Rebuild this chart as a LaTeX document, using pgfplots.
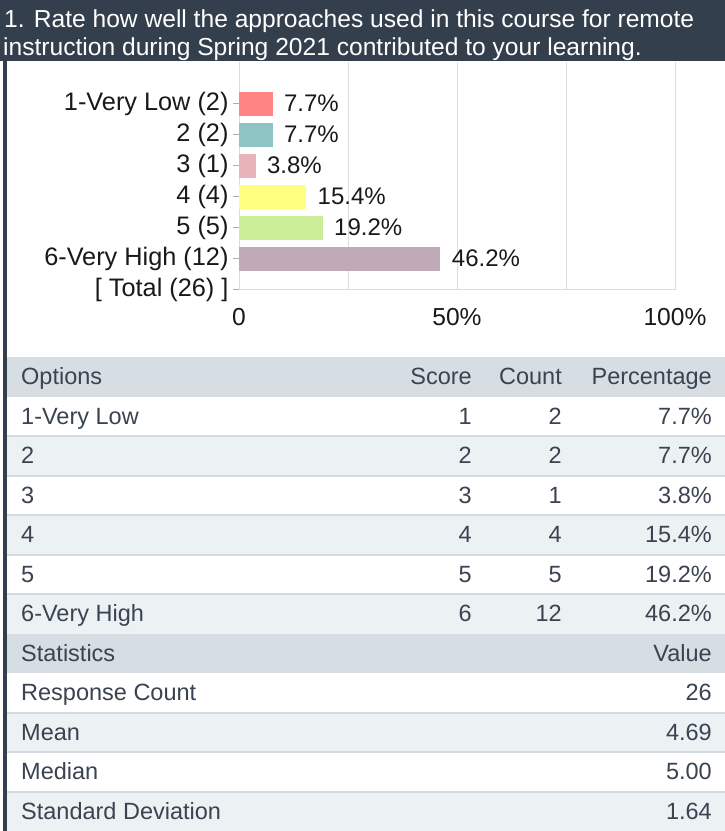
\documentclass[border=0pt]{standalone}
\usepackage{pgfplots}
\pgfplotsset{compat=1.18}
\usepackage{fontspec}
\setmainfont{Liberation Sans}

\definecolor{headbg}{HTML}{343F4D}
\definecolor{thbg}{HTML}{D6DEE3}
\definecolor{rowalt}{HTML}{ECF1F4}
\definecolor{rowline}{HTML}{D3DBE0}
\definecolor{tabtxt}{HTML}{3A4350}
\definecolor{gridc}{HTML}{DCDCDC}
\definecolor{c1}{HTML}{FF8585}
\definecolor{c2}{HTML}{8FC4C4}
\definecolor{c3}{HTML}{E8B4BA}
\definecolor{c4}{HTML}{FFFF80}
\definecolor{c5}{HTML}{CCEE99}
\definecolor{c6}{HTML}{C1AAB8}

\newcommand{\hfont}{\fontsize{24.6bp}{30bp}\selectfont}
\newcommand{\cfont}{\fontsize{25.3bp}{28bp}\selectfont}
\newcommand{\vfont}{\fontsize{24bp}{28bp}\selectfont}
\newcommand{\tfont}{\fontsize{23.5bp}{28bp}\selectfont}

\begin{document}
\begin{tikzpicture}
\path[use as bounding box] (0,0) rectangle (725bp,-831bp);

\begin{scope}[x=1bp,y=-1bp]
% header band and left border
\fill[headbg] (0,0) rectangle (725,61);
\fill[headbg] (3.5,0) rectangle (6.5,831);
\node[anchor=base west, inner sep=0, text=white, font=\hfont] at (4,27)
  {1. Rate how well the approaches used in this course for remote};
\node[anchor=base west, inner sep=0, text=white, font=\hfont] at (3,55)
  {instruction during Spring 2021 contributed to your learning.};

% table rows: backgrounds
\foreach \k/\c in {0/thbg,1/white,2/rowalt,3/white,4/rowalt,5/white,6/rowalt,
                   7/thbg,8/white,9/rowalt,10/white,11/rowalt} {
  \fill[\c] (6.5,357+39.5*\k) rectangle (725,357+39.5*\k+39.5);
}
\foreach \k in {2,3,4,5,6,9,10,11} {
  \draw[rowline, line width=2bp] (6.5,357+39.5*\k) -- (725,357+39.5*\k);
}

% table text
\begin{scope}[every node/.style={inner sep=0, text=tabtxt, font=\tfont}]
\foreach \k/\a/\b/\c/\d in {0/Options/Score/Count/Percentage,
    1/1-Very Low/1/2/7.7\%, 2/2/2/2/7.7\%, 3/3/3/1/3.8\%,
    4/4/4/4/15.4\%, 5/5/5/5/19.2\%, 6/6-Very High/6/12/46.2\%} {
  \node[anchor=base west] at (21,357+39.5*\k+27.5) {\a};
  \node[anchor=base east] at (472,357+39.5*\k+27.5) {\b};
  \node[anchor=base east] at (562,357+39.5*\k+27.5) {\c};
  \node[anchor=base east] at (712,357+39.5*\k+27.5) {\d};
}
\foreach \k/\a/\d in {7/Statistics/Value, 8/Response Count/26,
    9/Mean/4.69, 10/Median/5.00, 11/Standard Deviation/1.64} {
  \node[anchor=base west] at (21,357+39.5*\k+27.5) {\a};
  \node[anchor=base east] at (712,357+39.5*\k+27.5) {\d};
}
\end{scope}
\end{scope}

\begin{axis}[
    at={(239bp,-289.5bp)}, anchor=south west,
    scale only axis, width=436bp, height=227.5bp,
    xmin=0, xmax=100, ymin=-1.343, ymax=6, y dir=reverse,
    clip=false,
    /pgf/number format/assume math mode=true,
    xtick={0,25,50,75,100},
    xticklabels={0,,50\%,,100\%},
    ytick={0,1,2,3,4,5,6},
    yticklabels={1-Very Low (2),2 (2),3 (1),4 (4),5 (5),6-Very High (12),{[ Total (26) ]}},
    ytick pos=left,
    xmajorgrids,
    grid style={draw=gridc, line width=1bp},
    axis line style={draw=none},
    x tick style={draw=none},
    y tick style={draw=gridc!80!black, line width=1bp},
    tick align=outside, major tick length=6bp,
    yticklabel style={font=\cfont, text=black!90, xshift=-1bp},
    xticklabel style={font=\hfont, text=black!90, yshift=-9bp},
    xbar, bar width=24bp, bar shift=0pt,
    nodes near coords={\pgfmathprintnumber[fixed,fixed zerofill,precision=1]{\pgfplotspointmeta}\%},
    nodes near coords align=horizontal,
    every node near coord/.append style={font=\vfont, text=black!90, xshift=8bp},
]
\draw[gridc, line width=1bp] (axis cs:0,6) -- (axis cs:100,6);
\addplot[fill=c1, draw=none] coordinates {(7.7,0)};
\addplot[fill=c2, draw=none] coordinates {(7.7,1)};
\addplot[fill=c3, draw=none] coordinates {(3.8,2)};
\addplot[fill=c4, draw=none] coordinates {(15.4,3)};
\addplot[fill=c5, draw=none] coordinates {(19.2,4)};
\addplot[fill=c6, draw=none] coordinates {(46.2,5)};
\end{axis}
\end{tikzpicture}
\end{document}
